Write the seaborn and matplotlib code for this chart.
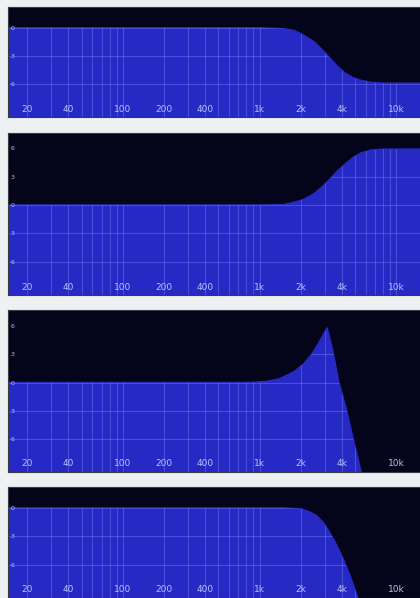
import numpy as np
import pandas as pd
import matplotlib.pyplot as plt
import seaborn as sns

# Four filter responses (frequency in Hz, gain in dB)
shelf_cut_hz = [14, 1000, 1500, 1800, 2100, 2500, 2900, 3300, 3700, 4200, 4800, 5500, 6500, 8000, 17000]
shelf_cut_db = [0, 0, -0.1, -0.3, -0.8, -1.5, -2.4, -3.3, -4.1, -4.8, -5.3, -5.6, -5.8, -5.9, -5.9]

shelf_boost_hz = [14, 1000, 1500, 1800, 2100, 2500, 2900, 3300, 3700, 4200, 4800, 5500, 6500, 8000, 17000]
shelf_boost_db = [0, 0, 0.05, 0.3, 0.6, 1.2, 2.0, 2.8, 3.6, 4.3, 5.0, 5.5, 5.8, 5.9, 5.9]

resonant_hz = [14, 800, 1100, 1400, 1800, 2100, 2400, 2700, 2950, 3120, 3400, 3800, 4300, 4800, 5500, 7000, 17000]
resonant_db = [0, 0, 0.1, 0.4, 1.2, 2.0, 3.0, 4.2, 5.2, 5.8, 3.6, 0.0, -2.8, -5.8, -9.4, -16, -40]

lowpass_hz = [14, 1500, 2000, 2300, 2600, 2900, 3200, 3500, 3800, 4200, 4600, 5000, 5300, 6000, 17000]
lowpass_db = [0, 0, -0.1, -0.4, -0.8, -1.5, -2.4, -3.4, -4.4, -5.8, -7.2, -8.7, -9.8, -13, -40]

freq_ticks = [20, 40, 100, 200, 400, 1000, 2000, 4000, 10000]
freq_labels = ["20", "40", "100", "200", "400", "1k", "2k", "4k", "10k"]
grid_hz = [m * d for d in (10, 100, 1000) for m in range(2, 10)] + [100, 1000, 10000]

short_db_ticks = [0, -3, -6]
short_db_labels = ["0", "3", "6"]
tall_db_ticks = [6, 3, 0, -3, -6]
tall_db_labels = ["6", "3", "0", "3", "6"]

panels = [
    (shelf_cut_hz, shelf_cut_db, (-9.5, 2.2), short_db_ticks, short_db_labels),
    (shelf_boost_hz, shelf_boost_db, (-9.5, 7.6), tall_db_ticks, tall_db_labels),
    (resonant_hz, resonant_db, (-9.5, 7.7), tall_db_ticks, tall_db_labels),
    (lowpass_hz, lowpass_db, (-9.5, 2.2), short_db_ticks, short_db_labels),
]

# axes boxes in pixels: (top, bottom)
boxes = [(7, 117), (133, 295), (310, 472), (487, 598)]

sns.set_theme(style="dark")
plt.rcParams["font.family"] = ["DejaVu Sans"]

W, H = 420, 598
fig = plt.figure(figsize=(W / 100, H / 100), dpi=100, facecolor="#edf1f1")

fill_col = "#2729c4"
night = "#04041a"

for (hz, db, ylim, yt, yl), (top, bot) in zip(panels, boxes):
    ax = fig.add_axes([8 / W, 1 - bot / H, 1.0, (bot - top) / H])
    ax.set_facecolor(night)
    ax.set_xscale("log")
    ax.grid(False)
    ax.set_axisbelow(False)

    df = pd.DataFrame({"hz": hz, "db": db})
    poly = ax.fill_between(df["hz"], df["db"], -60, color=fill_col, lw=0, zorder=1)
    sns.lineplot(data=df, x="hz", y="db", ax=ax, color=fill_col, lw=1,
                 estimator=None, sort=False, zorder=2)

    # grid only shows through the blue area
    clip = poly.get_paths()[0]
    vl = ax.vlines(grid_hz, -60, 60, colors="#7f88ff", lw=0.8, alpha=0.38, zorder=2.2)
    vl.set_clip_path(clip, ax.transData)
    hl = ax.hlines(tall_db_ticks, 10, 30000, colors="#7f88ff", lw=0.8, alpha=0.38, zorder=2.2)
    hl.set_clip_path(clip, ax.transData)

    ax.set_xlim(14.5, 17000)
    ax.set_ylim(*ylim)
    ax.set_xticks(freq_ticks, freq_labels)
    ax.set_xticks([], minor=True)
    ax.set_yticks(yt, yl)
    ax.tick_params(axis="x", length=0, pad=-9, labelsize=6.5, labelcolor="#bcc2f4")
    ax.tick_params(axis="y", length=0, pad=-5, labelsize=4.5, labelcolor="#bcc2f4")
    ax.set_xlabel("")
    ax.set_ylabel("")
    for s in ax.spines.values():
        s.set_color("#3a3a44")
        s.set_linewidth(0.8)

fig.savefig("out.png", dpi=100, facecolor=fig.get_facecolor())
